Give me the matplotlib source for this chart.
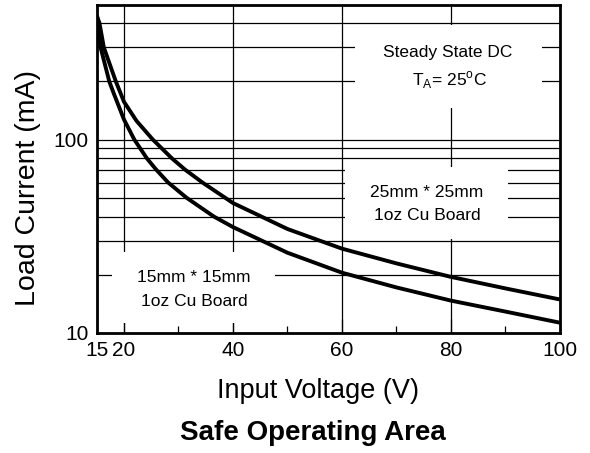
import matplotlib
matplotlib.use('Agg')
import matplotlib.pyplot as plt
from matplotlib.patches import Rectangle
from matplotlib.ticker import FixedLocator, NullFormatter, NullLocator

plt.rcParams['font.family'] = ['Liberation Sans', 'DejaVu Sans']

# curves: input voltage (V) -> load current (mA)
volt_25mm = [15, 15.5, 16.3, 18.5, 20, 22.3, 25.3, 28.8, 31.2, 34.4, 40,
             50, 60, 70, 80, 90, 100]
curr_25mm = [440, 400, 300, 200, 157, 125, 100, 80, 70, 60, 47,
             34.5, 27.3, 22.9, 19.5, 17, 14.9]
volt_15mm = [15, 15.25, 15.7, 17.3, 18.1, 20, 21.9, 24.2, 25.9, 28.1, 31.5, 36.5, 40,
             50, 60, 70, 80, 90, 100]
curr_15mm = [440, 400, 300, 200, 174, 127, 100, 80, 70, 60, 50, 40, 35.3,
             26, 20.5, 17.2, 14.7, 12.9, 11.3]

x_ticks = [15, 20, 40, 60, 80, 100]
x_grid = [20, 40, 60, 80]
x_minor = [30, 50, 70, 90]
y_ticks = [10, 100]
y_grid = [20, 30, 40, 50, 60, 70, 80, 90, 100, 200, 300, 400]

fig = plt.figure(figsize=(5.9, 4.53), dpi=100)
ax = fig.add_axes([0.164, 0.265, 0.785, 0.725])

ax.set_yscale('log')
ax.set_xlim(15, 100)
ax.set_ylim(10, 500)

# grid lines drawn by hand so the x grid skips 15 and 100
for v in x_grid:
    ax.axvline(v, color='black', lw=0.9, zorder=1)
for c in y_grid:
    ax.axhline(c, color='black', lw=0.9, zorder=1)

ax.plot(volt_25mm, curr_25mm, color='black', lw=2.8, zorder=4,
        solid_capstyle='butt', solid_joinstyle='round')
ax.plot(volt_15mm, curr_15mm, color='black', lw=2.8, zorder=4,
        solid_capstyle='butt', solid_joinstyle='round')

# white label boxes that blank out the grid
boxes = [(0.557, 0.686, 0.404, 0.253),
         (0.536, 0.287, 0.352, 0.219),
         (0.032, 0.030, 0.352, 0.217)]
for bx, by, bw, bh in boxes:
    ax.add_patch(Rectangle((bx, by), bw, bh, transform=ax.transAxes,
                           facecolor='white', edgecolor='none', zorder=2))

txt = dict(transform=ax.transAxes, ha='center', va='center', fontsize=12.5, zorder=5)
ax.text(0.758, 0.854, 'Steady State DC', **txt)
ax.text(0.762, 0.771, r'T$_\mathregular{A}$= 25$^\mathregular{o}$C', **txt)
ax.text(0.713, 0.427, '25mm * 25mm', **txt)
ax.text(0.713, 0.357, '1oz Cu Board', **txt)
ax.text(0.210, 0.168, '15mm * 15mm', **txt)
ax.text(0.210, 0.095, '1oz Cu Board', **txt)

ax.xaxis.set_major_locator(FixedLocator(x_ticks))
ax.xaxis.set_minor_locator(FixedLocator(x_minor))
ax.set_xticklabels([str(v) for v in x_ticks])
ax.yaxis.set_major_locator(FixedLocator(y_ticks))
ax.yaxis.set_minor_locator(NullLocator())
ax.yaxis.set_minor_formatter(NullFormatter())
ax.set_yticklabels([str(v) for v in y_ticks])

ax.tick_params(axis='x', which='major', direction='in', length=10, width=0.9,
               labelsize=15, pad=5.5, top=False)
ax.tick_params(axis='x', which='minor', direction='in', length=5, width=0.9, top=False)
ax.tick_params(axis='y', which='major', direction='in', length=0, labelsize=15, pad=6)

for s in ax.spines.values():
    s.set_linewidth(2.0)
    s.set_zorder(6)

fig.text(0.047, 0.584, 'Load Current (mA)', rotation=90, ha='center', va='center', fontsize=20.5)
fig.text(0.539, 0.1214, 'Input Voltage (V)', ha='center', va='baseline', fontsize=19.5)
fig.text(0.531, 0.0287, 'Safe Operating Area', ha='center', va='baseline',
         fontsize=20, fontweight='bold')

fig.savefig('out.png', dpi=100)
